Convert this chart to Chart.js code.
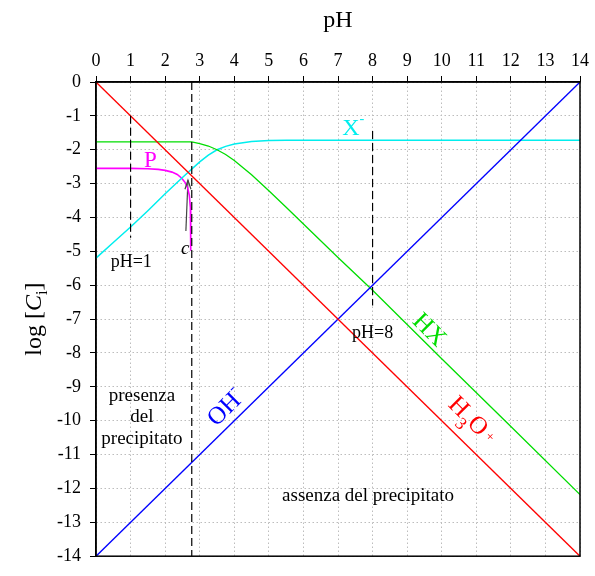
<!DOCTYPE html>
<html>
<head>
<meta charset="utf-8">
<script src="https://cdn.jsdelivr.net/npm/chart.js@4.4.0/dist/chart.umd.min.js"></script>
<style>
  html, body { margin: 0; padding: 0; background: #fff; }
  canvas { display: block; }
</style>
</head>
<body>
<canvas id="chart" width="595" height="576"></canvas>
<script>
'use strict';

// curve: pH -> log[Ci]
const h3oPH = [0, 14];
const h3oLog = [0, -14];

const ohPH = [0, 14];
const ohLog = [-14, 0];

const hxPH = [0, 2.77, 3.0, 3.25, 3.5, 3.75, 4.0, 4.5, 5.0, 5.5, 6.0, 7.0, 8.0, 10.0, 12.0, 14.0];
const hxLog = [-1.77, -1.77, -1.82, -1.89, -2.0, -2.14, -2.32, -2.74, -3.21, -3.70, -4.19, -5.18, -6.15, -8.17, -10.17, -12.18];

const xPH = [0, 0.5, 1, 1.5, 2, 2.5, 3, 3.25, 3.5, 3.75, 4, 4.5, 5, 5.5, 6, 14];
const xLog = [-5.2, -4.74, -4.28, -3.8, -3.3, -2.82, -2.36, -2.16, -2.0, -1.9, -1.83, -1.76, -1.73, -1.72, -1.72, -1.72];

const pPH = [0, 1, 1.5, 1.8, 2.0, 2.2, 2.35, 2.48, 2.58, 2.65, 2.7, 2.73, 2.74, 2.74];
const pLog = [-2.55, -2.55, -2.56, -2.58, -2.61, -2.66, -2.73, -2.84, -2.97, -3.12, -3.35, -3.7, -4.2, -4.98];

// linee tratteggiate verticali
const precPH = [2.77, 2.77];
const precLog = [0, -14];
const ph1PH = [1, 1];
const ph1Log = [-1.0, -4.6];
const ph8PH = [8, 8];
const ph8Log = [-1.45, -6.6];

// freccia "c"
const arrowPH = [2.6, 2.66];
const arrowLog = [-4.4, -2.9];

function pts(xs, ys) {
    return xs.map((x, i) => ({ x, y: ys[i] }));
}

const SERIF = '"Liberation Serif", "DejaVu Serif", serif';

// etichette: testo con pedici/apici come sequenze di pezzi [testo, scala, dy(em), corsivo]
const labels = [
    { x: 1.57, y: -2.3, color: '#ff00ff', size: 23, rot: 0, runs: [['P']] },
    { x: 7.44, y: -1.35, color: '#00eeee', size: 24, rot: 0, runs: [['X'], ['-', 0.6, -0.5]] },
    { x: 9.66, y: -7.3, color: '#00dd00', size: 25, rot: 45, runs: [['HX']] },
    { x: 10.9, y: -9.97, color: '#ff0000', size: 25, rot: 45,
      runs: [['H'], ['3', 0.7, 0.35], ['O'], [' +', 0.55, -0.15]] },
    { x: 3.74, y: -9.6, color: '#0000ff', size: 25, rot: -45, runs: [['OH'], ['-', 0.6, -0.5]] },
    { x: 1.33, y: -9.24, color: '#000', size: 19, rot: 0, runs: [['presenza']] },
    { x: 1.33, y: -9.87, color: '#000', size: 19, rot: 0, runs: [['del']] },
    { x: 1.33, y: -10.51, color: '#000', size: 19, rot: 0, runs: [['precipitato']] },
    { x: 7.87, y: -12.2, color: '#000', size: 19, rot: 0, runs: [['assenza del precipitato']] },
    { x: 1.02, y: -5.28, color: '#000', size: 18, rot: 0, runs: [['pH=1']] },
    { x: 8.0, y: -7.4, color: '#000', size: 18, rot: 0, runs: [['pH=8']] },
    { x: 2.58, y: -4.9, color: '#000', size: 19, rot: 0, runs: [['c', 1, 0, true]] },
];

function drawRuns(ctx, runs, x, y, size, color, rot) {
    ctx.save();
    ctx.translate(x, y);
    ctx.rotate(rot * Math.PI / 180);
    ctx.fillStyle = color;
    ctx.textBaseline = 'alphabetic';
    ctx.textAlign = 'left';
    let parts = runs.map((r) => {
        let s = size * (r[1] || 1);
        let font = (r[3] ? 'italic ' : '') + s + 'px ' + SERIF;
        ctx.font = font;
        return { t: r[0], font, dy: (r[2] || 0) * size, w: ctx.measureText(r[0]).width };
    });
    let total = parts.reduce((a, p) => a + p.w, 0);
    let cx = -total / 2;
    for (let p of parts) {
        ctx.font = p.font;
        ctx.fillText(p.t, cx, size * 0.32 + p.dy);
        cx += p.w;
    }
    ctx.restore();
}

const decorPlugin = {
    id: 'decor',
    afterDatasetsDraw(chart) {
        const ctx = chart.ctx;
        const xs = chart.scales.x, ys = chart.scales.y;
        const a = chart.chartArea;

        // cornice
        ctx.save();
        ctx.strokeStyle = '#000';
        ctx.lineWidth = 1.5;
        ctx.strokeRect(a.left, a.top, a.right - a.left, a.bottom - a.top);
        ctx.restore();

        // punta della freccia
        let tx = xs.getPixelForValue(arrowPH[1]), ty = ys.getPixelForValue(arrowLog[1]);
        ctx.save();
        ctx.strokeStyle = '#444';
        ctx.lineWidth = 1.2;
        ctx.beginPath();
        ctx.moveTo(tx - 3, ty + 9);
        ctx.lineTo(tx, ty);
        ctx.lineTo(tx + 3, ty + 9);
        ctx.stroke();
        ctx.restore();

        for (let l of labels) {
            drawRuns(ctx, l.runs, xs.getPixelForValue(l.x), ys.getPixelForValue(l.y), l.size, l.color, l.rot);
        }

        // titoli degli assi
        drawRuns(ctx, [['pH']], (a.left + a.right) / 2, 19, 24, '#000', 0);
        drawRuns(ctx, [['log ['], ['C', 1, 0, true], ['i', 0.7, 0.25], [']']],
            33, (a.top + a.bottom) / 2, 24, '#000', -90);
    },
};

function lineSet(xsArr, ysArr, color, width, dash) {
    return {
        data: pts(xsArr, ysArr),
        showLine: true,
        borderColor: color,
        borderWidth: width,
        borderDash: dash || [],
        pointRadius: 0,
        tension: 0,
    };
}

const ctx = document.getElementById('chart').getContext('2d');
new Chart(ctx, {
    type: 'scatter',
    data: {
        datasets: [
            lineSet(precPH, precLog, '#000', 1.2, [8, 4]),
            lineSet(ph1PH, ph1Log, '#000', 1.2, [8, 4]),
            lineSet(ph8PH, ph8Log, '#000', 1.2, [8, 4]),
            lineSet(h3oPH, h3oLog, '#ff0000', 1.3),
            lineSet(ohPH, ohLog, '#0000ff', 1.3),
            lineSet(hxPH, hxLog, '#00dd00', 1.3),
            lineSet(xPH, xLog, '#00eeee', 1.5),
            lineSet(pPH, pLog, '#ff00ff', 1.6),
            lineSet(arrowPH, arrowLog, '#444', 1.2),
        ],
    },
    options: {
        responsive: false,
        animation: false,
        layout: { padding: { left: 0, right: 15, top: 0, bottom: 9 } },
        plugins: {
            legend: { display: false },
            tooltip: { enabled: false },
        },
        scales: {
            x: {
                type: 'linear',
                position: 'top',
                min: 0,
                max: 14,
                afterFit: (s) => { s.height = 82; },
                ticks: { stepSize: 1, color: '#000', padding: 4, font: { family: SERIF, size: 18 } },
                grid: { color: '#bdbdbd', tickColor: '#000', tickLength: 6, tickBorderDash: [] },
                border: { color: '#000', width: 1.5, dash: [1.5, 2.5] },
            },
            y: {
                type: 'linear',
                min: -14,
                max: 0,
                afterFit: (s) => { s.width = 96; },
                ticks: { stepSize: 1, color: '#000', padding: 9, font: { family: SERIF, size: 18 } },
                grid: { color: '#bdbdbd', tickColor: '#000', tickLength: 6, tickBorderDash: [] },
                border: { color: '#000', width: 1.5, dash: [1.5, 2.5] },
            },
        },
    },
    plugins: [decorPlugin],
});
</script>
</body>
</html>
